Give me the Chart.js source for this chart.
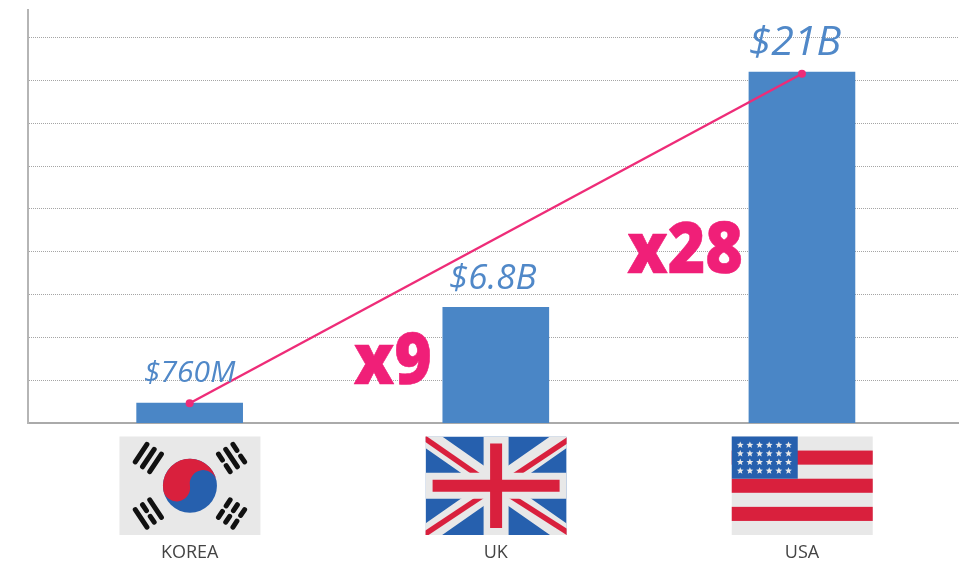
<!DOCTYPE html>
<html><head><meta charset="utf-8">
<script src="https://cdn.jsdelivr.net/npm/chart.js@4"></script>
<style>html,body{margin:0;padding:0;background:#fff}canvas{display:block}</style>
</head><body><div style="width:959px;height:562px"><canvas id="c"></canvas></div>
<script>
const categories = ['KOREA','UK','USA'];
const barValues = [1.17, 6.75, 20.5];
const valueLabels = ['$760M','$6.8B','$21B'];
const valueLabelSizes = [30, 35, 41];
const lineValues = [1.15, null, 20.4];
const multipliers = [null,'x9','x28'];
const BLUE='#4a86c6', PINK='#ee2c78', RED='#d9203d', FLAGBLUE='#2660ae', GREY='#e8e8e8';

function drawKorea(g,cx,top,w,h){
  const cy=top+h/2, l=cx-w/2;
  g.fillStyle=GREY; g.fillRect(l,top,w,h);
  const r=27;
  g.fillStyle=FLAGBLUE; g.beginPath(); g.arc(cx,cy,r,0,Math.PI*2); g.fill();
  g.save(); g.translate(cx,cy); g.rotate(-Math.PI*0.05);
  g.fillStyle=RED;
  g.beginPath(); g.arc(0,0,r,Math.PI,0); g.arc(r/2,0,r/2,0,Math.PI,true); g.arc(-r/2,0,r/2,0,Math.PI,false); g.closePath(); g.fill();
  g.restore();
  const tri=[[-1,-1,[1,1,1]],[1,-1,[0,1,0]],[-1,1,[1,0,1]],[1,1,[0,0,0]]];
  g.strokeStyle='#111'; g.lineWidth=5; g.lineCap='round';
  tri.forEach(([sx,sy,pat])=>{
    const ang=Math.atan2(sy*28,sx*42);
    g.save(); g.translate(cx,cy); g.rotate(ang);
    pat.forEach((solid,i)=>{
      const d=50+(i-1)*8.7;
      const half=10.5;
      g.beginPath();
      if(solid){g.moveTo(d,-half);g.lineTo(d,half);g.stroke();}
      else{g.moveTo(d,-half);g.lineTo(d,-3.4);g.moveTo(d,3.4);g.lineTo(d,half);g.stroke();}
    });
    g.restore();
  });
  g.lineCap='butt';
}
function drawUK(g,cx,top,w,h){
  const l=cx-w/2,r=cx+w/2,b=top+h,cy=top+h/2;
  g.save(); g.beginPath(); g.rect(l,top,w,h); g.clip();
  g.fillStyle=FLAGBLUE; g.fillRect(l,top,w,h);
  g.strokeStyle=GREY; g.lineWidth=19;
  g.beginPath(); g.moveTo(l,top); g.lineTo(r,b); g.moveTo(r,top); g.lineTo(l,b); g.stroke();
  g.strokeStyle=RED; g.lineWidth=5.5;
  [[l-2,top+1,cx,cy+2],[cx,cy+1,r+2,b-2],[l-2,b,cx,cy+1],[cx,cy+2,r+2,top+3]].forEach(p=>{
    g.beginPath(); g.moveTo(p[0],p[1]); g.lineTo(p[2],p[3]); g.stroke();
  });
  g.fillStyle=GREY;
  g.fillRect(cx-12.5,top,25,h); g.fillRect(l,cy-13,w,26);
  g.fillStyle=RED;
  g.fillRect(cx-6,top+7,12,h-14); g.fillRect(l+7,cy-6,w-14,12);
  g.restore();
}
function drawUSA(g,cx,top,w,h){
  const l=cx-w/2,sh=h/7;
  g.fillStyle=GREY; g.fillRect(l,top,w,h);
  g.fillStyle=RED; [1,3,5].forEach(i=>g.fillRect(l,top+i*sh,w,sh));
  g.fillStyle=FLAGBLUE; g.fillRect(l,top,w*0.468,sh*3);
  g.fillStyle=GREY;
  for(let row=0;row<4;row++)for(let col=0;col<6;col++){
    const x=l+8.5+col*9.65,y=top+8.5+row*8.6,R=3.6;
    g.beginPath();
    for(let k=0;k<10;k++){const a=-Math.PI/2+k*Math.PI/5,q=k%2?R*0.45:R;
      g[k?'lineTo':'moveTo'](x+q*Math.cos(a),y+q*Math.sin(a));}
    g.closePath(); g.fill();
  }
}
const flagDrawers=[drawKorea,drawUK,drawUSA];

const decorations={id:'decorations',
  afterDatasetsDraw(chart){
    const g=chart.ctx,x=chart.scales.x,y=chart.scales.y;
    g.save();
    categories.forEach((c,i)=>{
      flagDrawers[i](g,x.getPixelForValue(i)+0.3,y.bottom+13.5,141,98.5);
      g.font='italic 400 '+valueLabelSizes[i]+'px "Open Sans"';
      g.fillStyle='#5088c8'; g.textAlign='center'; g.textBaseline='alphabetic';
      const px=x.getPixelForValue(i)+[0,-3,-7][i];
      const py=y.getPixelForValue(barValues[i])-[21,18,17][i];
      g.fillText(valueLabels[i],px,py);
      if(multipliers[i]){
        g.save();
        g.translate(x.getPixelForValue(i)+[-64,-59][i-1],[384,273][i-1]);
        g.scale(0.905,1);
        g.font='800 71px "Open Sans"';
        g.fillStyle='#f01f78'; g.strokeStyle='#f01f78'; g.lineWidth=0.6; g.lineJoin='round'; g.textAlign='right';
        g.fillText(multipliers[i],0,0);
        g.strokeText(multipliers[i],0,0);
        g.restore();
      }
    });
    g.restore();
  }};

new Chart(document.getElementById('c'),{
  data:{datasets:[
    {type:'line',order:0,data:categories.map((c,i)=>({x:i,y:lineValues[i]})),spanGaps:true,
     borderColor:PINK,backgroundColor:PINK,borderWidth:2.4,pointRadius:4,pointBackgroundColor:PINK,pointBorderWidth:0,tension:0},
    {type:'bar',order:1,data:categories.map((c,i)=>({x:i,y:barValues[i]})),backgroundColor:BLUE,barThickness:106}
  ]},
  options:{responsive:true,maintainAspectRatio:false,animation:false,
    layout:{autoPadding:false,padding:{top:10,right:0,left:0,bottom:0}},
    plugins:{legend:{display:false},tooltip:{enabled:false}},
    scales:{
      x:{type:'linear',min:-0.528,max:2.513,offset:false,
        afterBuildTicks(s){s.ticks=categories.map((c,i)=>({value:i}));},
        afterFit(s){s.height=139;s.paddingLeft=0;s.paddingRight=0;},
        grid:{display:false},
        border:{display:true,color:'#aaaaaa',width:2},
        ticks:{autoSkip:false,maxRotation:0,padding:111,color:'#444',font:{family:'"Open Sans"',size:18},
          callback:v=>categories[v]}},
      y:{min:0,max:24.12,
        afterBuildTicks(s){s.ticks=[2.5,5,7.5,10,12.5,15,17.5,20,22.5].map(v=>({value:v}));},
        afterFit(s){s.width=28;},
        grid:{color:'#a5a5a5',lineWidth:1,drawTicks:false},
        border:{display:true,color:'#b5b5b5',width:2,dash:[1,1]},
        ticks:{display:false}}
    }},
  plugins:[decorations]
});
</script></body></html>
